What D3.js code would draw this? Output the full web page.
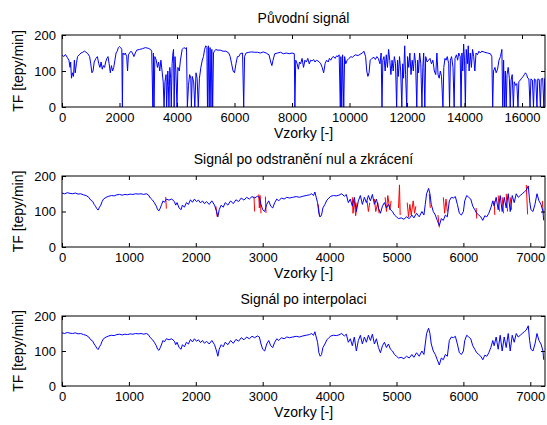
<!DOCTYPE html>
<html>
<head>
<meta charset="utf-8">
<script src="https://cdn.jsdelivr.net/npm/d3@7"></script>
<style>
  body { margin: 0; background: #fff; }
  svg { display: block; font-family: "Liberation Sans", Arial, sans-serif; }
</style>
</head>
<body>
<script>
// titles of the three subplots
const titles = ["Původní signál", "Signál po odstranění nul a zkrácení", "Signál po interpolaci"];
const xLabel = "Vzorky [-]";
const yLabel = "TF [tepy/min]";

// tick values
const yTicks = [0, 100, 200];
const xTicksLong = [0, 2000, 4000, 6000, 8000, 10000, 12000, 14000, 16000];
const xTicksShort = [0, 1000, 2000, 3000, 4000, 5000, 6000, 7000];
const xMaxLong = 16800;
const xMaxShort = 7220;

// original signal [sample, bpm] (drops to zero included)
const original = [[0,145],[60,140],[120,146],[180,138],[240,130],[280,110],[300,125],[330,80],[360,95],[400,85],[430,130],[460,95],[500,120],[540,140],[600,145],[660,150],[720,152],[780,155],[840,152],[900,148],[960,140],[1000,120],[1040,95],[1080,100],[1120,125],[1180,135],[1230,140],[1280,120],[1320,110],[1360,125],[1400,105],[1440,115],[1480,110],[1520,125],[1560,135],[1600,140],[1640,120],[1680,95],[1720,115],[1760,100],[1800,110],[1840,130],[1880,150],[1920,155],[1960,165],[2000,168],[2040,165],[2080,160],[2100,0],[2120,150],[2160,145],[2200,150],[2250,140],[2280,100],[2310,145],[2350,150],[2400,155],[2450,150],[2500,140],[2550,150],[2600,158],[2700,160],[2800,162],[2900,165],[3000,163],[3080,160],[3120,155],[3160,0],[3180,150],[3200,0],[3230,140],[3280,130],[3320,110],[3360,125],[3400,100],[3440,130],[3480,100],[3520,70],[3550,0],[3580,70],[3620,90],[3640,0],[3680,100],[3700,60],[3720,0],[3750,110],[3780,80],[3800,0],[3830,120],[3860,150],[3880,160],[3900,0],[3930,140],[3960,100],[4000,0],[4030,110],[4080,100],[4120,130],[4180,160],[4240,165],[4300,162],[4330,165],[4360,0],[4400,60],[4440,90],[4480,80],[4500,0],[4530,85],[4580,70],[4620,0],[4660,95],[4700,80],[4740,0],[4780,80],[4830,110],[4880,130],[4920,140],[4960,160],[5000,170],[5040,165],[5060,0],[5090,170],[5120,0],[5150,165],[5180,0],[5210,160],[5240,0],[5270,150],[5300,155],[5350,160],[5400,158],[5500,158],[5600,155],[5700,155],[5800,150],[5850,140],[5900,120],[5950,100],[6000,95],[6050,120],[6100,140],[6150,140],[6200,148],[6280,150],[6320,0],[6350,140],[6400,150],[6500,152],[6600,153],[6700,152],[6800,152],[6900,150],[7000,153],[7100,150],[7200,145],[7260,125],[7300,115],[7340,130],[7400,148],[7500,150],[7600,152],[7700,148],[7800,150],[7900,148],[8000,150],[8080,148],[8100,0],[8130,130],[8180,120],[8220,105],[8260,125],[8300,120],[8350,135],[8400,110],[8450,130],[8500,125],[8550,135],[8600,120],[8650,130],[8700,128],[8750,132],[8800,125],[8850,130],[8900,128],[8950,125],[9000,120],[9050,110],[9100,95],[9150,120],[9200,130],[9260,125],[9300,135],[9350,130],[9400,138],[9450,140],[9500,135],[9550,142],[9600,140],[9640,145],[9680,0],[9700,140],[9730,0],[9760,145],[9800,0],[9830,140],[9870,120],[9920,130],[9980,135],[10050,140],[10100,138],[10200,145],[10300,143],[10400,148],[10450,150],[10500,155],[10560,140],[10600,100],[10640,85],[10680,95],[10720,130],[10780,135],[10850,138],[10900,132],[10950,140],[11000,135],[11060,120],[11100,150],[11130,0],[11160,130],[11200,140],[11240,100],[11280,145],[11320,110],[11360,160],[11400,130],[11440,90],[11480,130],[11520,100],[11560,140],[11600,120],[11640,0],[11670,130],[11700,85],[11740,140],[11780,100],[11820,0],[11850,120],[11880,80],[11920,170],[11950,90],[11990,0],[12020,140],[12060,110],[12100,150],[12140,90],[12180,130],[12220,100],[12260,150],[12300,120],[12340,0],[12370,130],[12400,95],[12440,150],[12480,120],[12520,0],[12550,110],[12580,150],[12620,0],[12650,140],[12700,125],[12750,130],[12800,135],[12850,120],[12900,130],[12950,100],[13000,90],[13040,150],[13080,90],[13120,80],[13160,100],[13200,85],[13250,0],[13280,110],[13320,135],[13360,130],[13400,140],[13450,120],[13480,0],[13510,130],[13550,140],[13600,110],[13640,0],[13670,135],[13720,145],[13760,130],[13800,150],[13850,140],[13880,0],[13910,150],[13940,100],[13970,175],[14000,130],[14030,0],[14060,160],[14100,120],[14130,170],[14160,100],[14200,150],[14240,110],[14280,160],[14320,140],[14360,100],[14400,150],[14450,145],[14500,155],[14550,150],[14600,155],[14700,152],[14800,150],[14900,148],[14950,140],[14980,0],[15010,100],[15060,110],[15100,95],[15150,105],[15200,130],[15250,140],[15300,160],[15330,0],[15360,130],[15390,0],[15420,100],[15450,0],[15480,90],[15520,110],[15560,80],[15590,0],[15620,75],[15660,90],[15700,0],[15730,70],[15780,60],[15820,65],[15860,0],[15890,70],[15940,75],[15990,80],[16040,85],[16080,90],[16120,95],[16160,90],[16200,80],[16240,78],[16280,0],[16310,78],[16360,75],[16400,0],[16430,78],[16480,75],[16520,0],[16550,78],[16600,76],[16640,0],[16670,78],[16720,80],[16760,0],[16790,80]];

// interpolated signal [sample, bpm]
const interpolated = [[0,152],[40,150],[80,153],[120,151],[160,150],[200,152],[240,149],[280,150],[320,147],[360,145],[400,140],[430,132],[460,128],[480,120],[500,115],[520,108],[540,104],[560,112],[580,118],[600,128],[620,135],[660,140],[700,143],[740,145],[780,144],[820,147],[860,148],[900,146],[940,148],[980,147],[1020,149],[1060,148],[1100,150],[1140,149],[1180,150],[1220,148],[1260,150],[1290,147],[1320,138],[1350,133],[1380,125],[1410,115],[1430,105],[1450,102],[1470,110],[1490,120],[1510,130],[1530,126],[1560,135],[1600,132],[1640,135],[1680,128],[1700,118],[1720,125],[1750,110],[1780,105],[1800,118],[1830,112],[1860,125],[1890,120],[1920,133],[1950,126],[1980,135],[2010,128],[2040,132],[2070,124],[2100,130],[2130,122],[2160,128],[2200,120],[2240,130],[2280,118],[2310,100],[2330,85],[2350,105],[2380,118],[2410,112],[2440,125],[2480,118],[2520,130],[2560,122],[2600,133],[2640,128],[2680,138],[2720,132],[2760,140],[2800,135],[2840,142],[2880,138],[2920,143],[2950,140],[2975,120],[3000,105],[3030,100],[3060,120],[3090,130],[3120,115],[3150,110],[3180,125],[3210,135],[3240,130],[3280,138],[3320,135],[3360,140],[3400,138],[3450,140],[3500,142],[3550,140],[3600,143],[3650,145],[3700,147],[3730,150],[3760,145],[3780,155],[3800,140],[3820,125],[3840,95],[3860,85],[3880,90],[3900,110],[3930,120],[3960,132],[3990,138],[4020,143],[4060,145],[4100,144],[4140,146],[4180,150],[4220,143],[4250,148],[4280,125],[4310,135],[4340,115],[4370,140],[4400,100],[4430,130],[4460,145],[4490,120],[4520,140],[4550,125],[4580,145],[4610,130],[4640,148],[4670,120],[4700,135],[4730,110],[4760,95],[4790,115],[4820,125],[4850,110],[4880,120],[4910,105],[4940,100],[4970,90],[5000,85],[5030,80],[5070,82],[5110,78],[5150,85],[5190,80],[5230,90],[5260,82],[5300,95],[5340,85],[5380,100],[5410,90],[5430,120],[5450,150],[5480,165],[5500,150],[5520,120],[5550,100],[5580,90],[5610,75],[5640,60],[5670,80],[5700,75],[5730,90],[5760,85],[5790,130],[5820,140],[5850,138],[5880,142],[5910,120],[5940,95],[5970,90],[6000,100],[6020,130],[6050,145],[6080,140],[6110,135],[6140,115],[6170,105],[6200,95],[6230,90],[6260,85],[6290,75],[6320,88],[6350,85],[6380,95],[6410,110],[6440,130],[6460,115],[6490,140],[6520,105],[6550,145],[6580,100],[6610,140],[6640,110],[6670,150],[6700,100],[6730,145],[6760,125],[6790,150],[6820,140],[6850,145],[6880,150],[6910,155],[6940,160],[6970,172],[6990,130],[7010,105],[7040,100],[7070,120],[7100,150],[7130,130],[7160,120],[7190,100],[7200,75]];

// replaced stretches shown in red in the middle plot
const replaced = [
  [[1550,141],[1560,108]],
  [[2300,115],[2320,85]],
  [[2870,142],[2880,100]],
  [[2940,148],[2950,110],[2960,145],[2975,95]],
  [[3040,142],[3050,96]],
  [[3830,120],[3850,85]],
  [[4340,140],[4350,95],[4370,130],[4390,88],[4410,125]],
  [[4560,130],[4580,100],[4600,125]],
  [[4670,135],[4690,100],[4720,125],[4740,95]],
  [[4830,140],[4850,100],[4870,145],[4900,105],[4920,130]],
  [[5030,110],[5045,175],[5055,90]],
  [[5160,125],[5180,85],[5200,120],[5220,90],[5250,130],[5270,95],[5290,115]],
  [[5490,150],[5505,110]],
  [[5620,90],[5640,55]],
  [[5700,140],[5720,95],[5740,135],[5760,100]],
  [[6190,110],[6200,80]],
  [[6460,130],[6470,90]],
  [[6520,145],[6540,100]],
  [[6580,140],[6600,95]],
  [[6640,150],[6660,100]],
  [[6700,140],[6720,105]],
  [[6940,175],[6960,92]],
  [[7180,130],[7195,95]]
];

const width = 547, height = 425;
const left = 62, right = 545;
const panels = [
  {title: titles[0], top: 35, bottom: 107, xmax: xMaxLong, xticks: xTicksLong, blue: original, red: []},
  {title: titles[1], top: 176, bottom: 247, xmax: xMaxShort, xticks: xTicksShort, blue: interpolated, red: replaced},
  {title: titles[2], top: 316, bottom: 386, xmax: xMaxShort, xticks: xTicksShort, blue: interpolated, red: []}
];

const svg = d3.select("body").append("svg")
  .attr("width", width)
  .attr("height", height);

panels.forEach((p, i) => {
  const x = d3.scaleLinear().domain([0, p.xmax]).range([left, right]);
  const y = d3.scaleLinear().domain([0, 200]).range([p.bottom, p.top]);
  const line = d3.line().x(d => x(d[0])).y(d => y(d[1]));
  const g = svg.append("g");

  g.append("clipPath").attr("id", "clip" + i)
    .append("rect")
    .attr("x", left).attr("y", p.top)
    .attr("width", right - left).attr("height", p.bottom - p.top);

  const plot = g.append("g").attr("clip-path", `url(#clip${i})`);
  plot.selectAll("path.red")
    .data(p.red)
    .join("path")
      .attr("class", "red")
      .attr("fill", "none")
      .attr("stroke", "#ff0000")
      .attr("stroke-width", 1)
      .attr("d", line);
  plot.append("path")
    .datum(p.blue)
    .attr("fill", "none")
    .attr("stroke", "#0000ff")
    .attr("stroke-width", 1)
    .attr("stroke-linejoin", "round")
    .attr("d", line);

  // axes, ticks inside like MATLAB
  const tick = 4;
  const fmt = d3.format("d");
  g.append("g").attr("transform", `translate(0,${p.bottom})`)
    .call(d3.axisBottom(x).tickValues(p.xticks).tickFormat(fmt).tickSizeInner(-tick).tickSizeOuter(0).tickPadding(6))
    .call(a => a.select(".domain").remove());
  g.append("g").attr("transform", `translate(0,${p.top})`)
    .call(d3.axisTop(x).tickValues(p.xticks).tickSizeInner(-tick).tickSizeOuter(0).tickFormat(""))
    .call(a => a.select(".domain").remove());
  g.append("g").attr("transform", `translate(${left},0)`)
    .call(d3.axisLeft(y).tickValues(yTicks).tickFormat(fmt).tickSizeInner(-tick).tickSizeOuter(0).tickPadding(6))
    .call(a => a.select(".domain").remove());
  g.append("g").attr("transform", `translate(${right},0)`)
    .call(d3.axisRight(y).tickValues(yTicks).tickSizeInner(-tick).tickSizeOuter(0).tickFormat(""))
    .call(a => a.select(".domain").remove());

  g.selectAll(".tick text")
    .attr("font-family", "Liberation Sans, Arial, sans-serif")
    .attr("font-size", 13)
    .attr("fill", "#000");
  g.selectAll(".tick line").attr("stroke", "#000");

  g.append("rect")
    .attr("x", left).attr("y", p.top)
    .attr("width", right - left).attr("height", p.bottom - p.top)
    .attr("fill", "none").attr("stroke", "#000").attr("stroke-width", 1);

  g.append("text")
    .attr("x", (left + right) / 2).attr("y", p.top - 12)
    .attr("text-anchor", "middle").attr("font-size", 14)
    .text(p.title);
  g.append("text")
    .attr("x", (left + right) / 2).attr("y", p.bottom + 31)
    .attr("text-anchor", "middle").attr("font-size", 14)
    .text(xLabel);
  g.append("text")
    .attr("transform", `translate(23,${(p.top + p.bottom) / 2}) rotate(-90)`)
    .attr("text-anchor", "middle").attr("font-size", 14)
    .text(yLabel);
});
</script>
</body>
</html>
